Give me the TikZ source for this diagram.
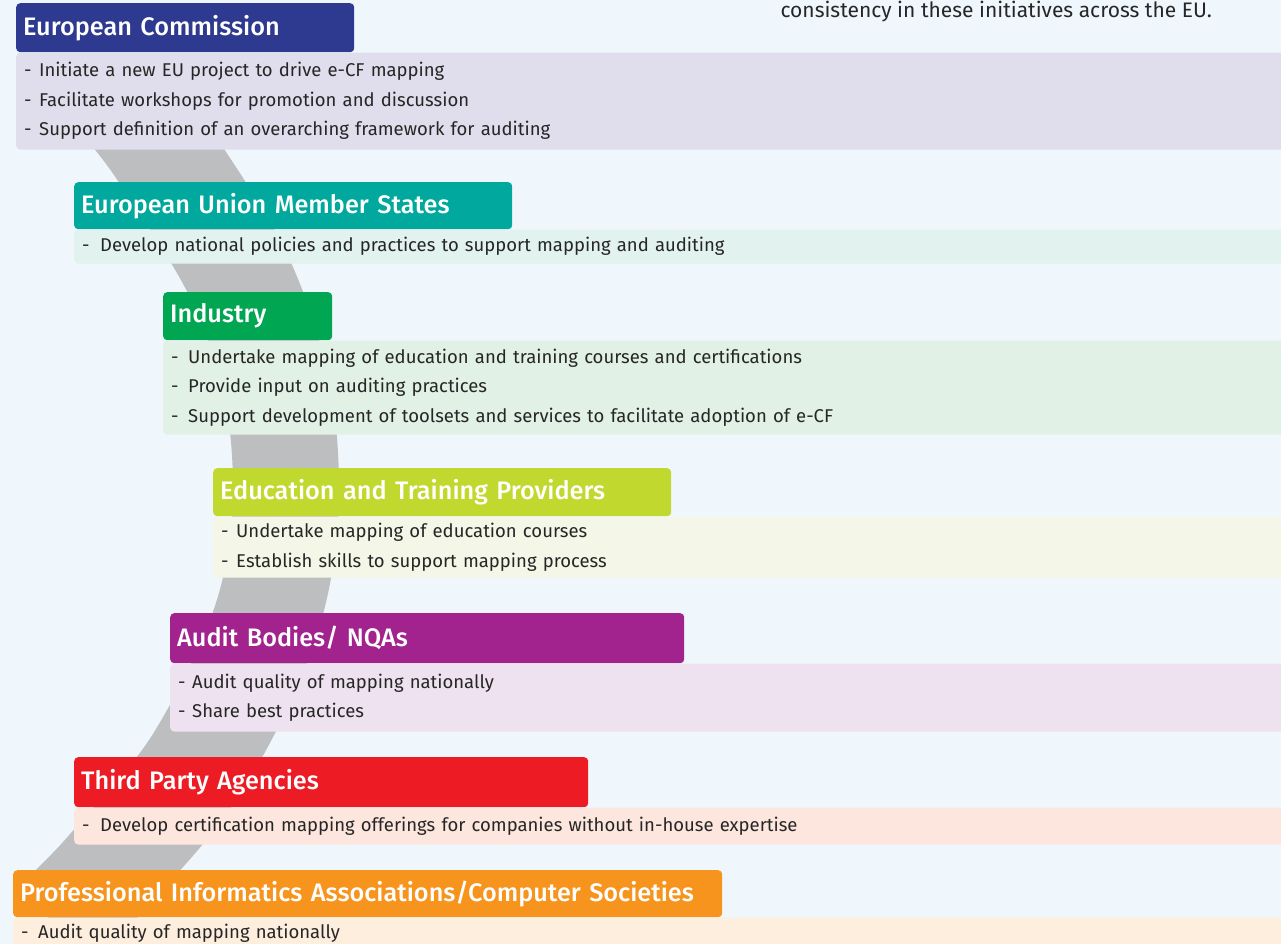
\documentclass[tikz,border=0pt]{standalone}
\usepackage{fontspec}
\setmainfont{Fira Sans}
\newfontfamily\headfont{Fira Sans Medium}
\usetikzlibrary{positioning}

\definecolor{bgblue}{RGB}{239,247,253}
\definecolor{bandgrey}{RGB}{189,190,192}
\definecolor{txtgrey}{RGB}{38,38,38}
\definecolor{ecblue}{RGB}{46,57,144}
\definecolor{eclight}{RGB}{224,222,236}
\definecolor{msteal}{RGB}{0,168,157}
\definecolor{mslight}{RGB}{226,242,239}
\definecolor{indgreen}{RGB}{0,166,81}
\definecolor{indlight}{RGB}{226,241,230}
\definecolor{etplime}{RGB}{193,216,47}
\definecolor{etplight}{RGB}{244,247,231}
\definecolor{audpurple}{RGB}{162,35,142}
\definecolor{audlight}{RGB}{239,226,240}
\definecolor{tpared}{RGB}{237,28,36}
\definecolor{tpalight}{RGB}{253,230,222}
\definecolor{piaorange}{RGB}{247,148,29}
\definecolor{pialight}{RGB}{254,238,222}

\newcommand{\dashitem}[2][15pt]{\makebox[#1][l]{-}#2}

\begin{document}
\begin{tikzpicture}[x=1pt,y=-1pt,
    hdr/.style={anchor=north west, rounded corners=4pt, inner xsep=7pt, inner ysep=0pt,
      text=white, align=left, font=\headfont\fontsize{25.3}{28}\selectfont},
    lst/.style={anchor=north west, rounded corners=4pt, inner xsep=8pt, inner ysep=0pt,
      text=txtgrey, align=left, font=\fontsize{18.5}{29.5}\selectfont},
    band/.style={draw=bandgrey, line width=106pt}]
  \useasboundingbox (0,0) rectangle (1281,944);
  \clip (0,0) rectangle (1281,944);
  \fill[bgblue] (0,0) rectangle (1281,944);

  % grey sweep behind the boxes
  \draw[band] plot[smooth, tension=0.6] coordinates
    {(113,90) (161,150) (246,292) (284,440) (272,600) (201,757) (109,870) (55,925)};

  \node[anchor=base west, text=txtgrey, font=\fontsize{21}{25}\selectfont]
    (note) at (777,18) {consistency in these initiatives across the EU.};

  % European Commission
  \node[hdr, fill=ecblue, text width=324pt, minimum height=49pt] (ec) at (16,3) {European Commission};
  \node[lst, fill=eclight, text width=1258pt, minimum height=97pt] (ecbody) at (ec.south west)
    {\dashitem{Initiate a new EU project to drive e-CF mapping}\\
     \dashitem{Facilitate workshops for promotion and discussion}\\
     \dashitem{Support definition of an overarching framework for auditing}};

  % Member States
  \node[hdr, fill=msteal, text width=424pt, minimum height=47pt] (ms) at (74,182) {European Union Member States};
  \node[lst, fill=mslight, text width=1200pt, minimum height=34pt] (msbody) at (ms.south west)
    {\dashitem[18pt]{Develop national policies and practices to support mapping and auditing}};

  % Industry
  \node[hdr, fill=indgreen, text width=155pt, minimum height=48pt] (ind) at (163,292) {Industry};
  \node[lst, fill=indlight, text width=1111pt, minimum height=94pt] (indbody) at (ind.south west)
    {\dashitem[17pt]{Undertake mapping of education and training courses and certifications}\\
     \dashitem[17pt]{Provide input on auditing practices}\\
     \dashitem[17pt]{Support development of toolsets and services to facilitate adoption of e-CF}};

  % Education and Training Providers
  \node[hdr, fill=etplime, text width=444pt, minimum height=48pt] (etp) at (213,468) {Education and Training Providers};
  \node[lst, fill=etplight, text width=1061pt, minimum height=61pt] (etpbody) at (etp.south west)
    {\dashitem{Undertake mapping of education courses}\\
     \dashitem{Establish skills to support mapping process}};

  % Audit Bodies
  \node[hdr, fill=audpurple, text width=500pt, minimum height=50pt] (aud) at (170,613) {Audit Bodies/ NQAs};
  \node[lst, fill=audlight, text width=1104pt, minimum height=68pt] (audbody) at (aud.south west)
    {\dashitem[14pt]{Audit quality of mapping nationally}\\
     \dashitem[14pt]{Share best practices}};

  % Third Party Agencies
  \node[hdr, fill=tpared, text width=500pt, minimum height=50pt] (tpa) at (74,757) {Third Party Agencies};
  \node[lst, fill=tpalight, text width=1200pt, minimum height=37pt] (tpabody) at (tpa.south west)
    {\dashitem[18pt]{Develop certification mapping offerings for companies without in-house expertise}};

  % Professional Informatics Associations
  \node[hdr, fill=piaorange, text width=695pt, minimum height=47pt] (pia) at (13,870) {Professional Informatics Associations/Computer Societies};
  \node[lst, fill=pialight, text width=1261pt, minimum height=32pt] (piabody) at (pia.south west)
    {\dashitem[17pt]{Audit quality of mapping nationally}};
\end{tikzpicture}
\end{document}
